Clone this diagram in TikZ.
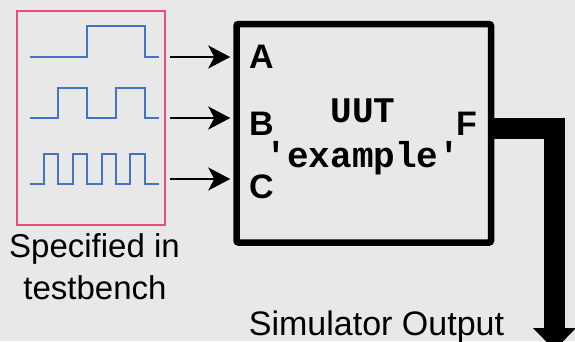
\documentclass[tikz,border=0pt]{standalone}
\usepackage{fontspec}
\setmainfont{Liberation Sans}
\newfontfamily\monob{Liberation Mono}
\usetikzlibrary{arrows.meta}
\definecolor{bg}{RGB}{232,232,232}
\definecolor{wave}{RGB}{68,114,196}
\definecolor{framec}{RGB}{232,80,120}
\begin{document}
\begin{tikzpicture}[x=1pt,y=-1pt,
  wavestyle/.style={wave, line width=2.4pt, line join=miter},
  inarrow/.style={line width=2pt, -{Stealth[length=22pt,width=23pt,inset=6pt]}, shorten >=3pt},
  pinlabel/.style={anchor=base west, inner sep=0pt, font=\fontsize{34}{40}\selectfont\bfseries},
  codelabel/.style={anchor=base, inner sep=0pt, font=\fontsize{36}{40}\selectfont\monob\bfseries},
  plainlabel/.style={anchor=base, inner sep=0pt, font=\fontsize{33}{40}\selectfont}]
\fill[bg] (0,0) rectangle (575,341);
\useasboundingbox (0,0) rectangle (575,341);
% testbench frame
\node[draw=framec, line width=1.3pt, minimum width=148pt, minimum height=214pt, inner sep=0pt] (tb) at (91,118) {};
% waveforms
\draw[wavestyle] (30,57) -- (87,57) -- (87,26) -- (145,26) -- (145,57) -- (159,57);
\draw[wavestyle] (30,118) -- (58,118) -- (58,88) -- (87,88) -- (87,118) -- (116,118) -- (116,88) -- (145,88) -- (145,118) -- (159,118);
\draw[wavestyle] (30,184) -- (44,184) -- (44,154) -- (58,154) -- (58,184) -- (73,184) -- (73,154) -- (87,154) -- (87,184) -- (102,184) -- (102,154) -- (116,154) -- (116,184) -- (130,184) -- (130,154) -- (145,154) -- (145,184) -- (159,184);
% labels under frame
\node[plainlabel] (spec1) at (94.5,257) {Specified in};
\node[plainlabel] (spec2) at (95,299) {testbench};
% UUT box
\node[draw, line width=6.5pt, rounded corners=2pt, minimum width=254.5pt, minimum height=218.5pt, inner sep=0pt] (uut) at (363.75,133.25) {};
\node[pinlabel] (pa) at (249,68) {A};
\node[pinlabel] (pb) at (249,135) {B};
\node[pinlabel] (pc) at (249,198) {C};
\node[pinlabel] (pf) at (456,135) {F};
\node[codelabel] (uutname) at (363,122) {UUT};
\node[codelabel] (uutex) at (363,167) {\textquotesingle example\textquotesingle};
% input arrows
\coordinate (ia) at (170,57);
\coordinate (ib) at (170,118);
\coordinate (ic) at (170,179);
\draw[inarrow] (ia) -- (ia -| uut.west);
\draw[inarrow] (ib) -- (ib -| uut.west);
\draw[inarrow] (ic) -- (ic -| uut.west);
% output
\coordinate (fo) at (491,128);
\coordinate (oend) at (554.5,329);
\draw[line width=21pt, line join=miter] (fo) -| (oend);
\fill (533,328) -- (576,328) -- (554.5,350) -- cycle;
\node[plainlabel, font=\fontsize{34}{40}\selectfont] (simout) at (376.5,335) {Simulator Output};
\end{tikzpicture}
\end{document}
